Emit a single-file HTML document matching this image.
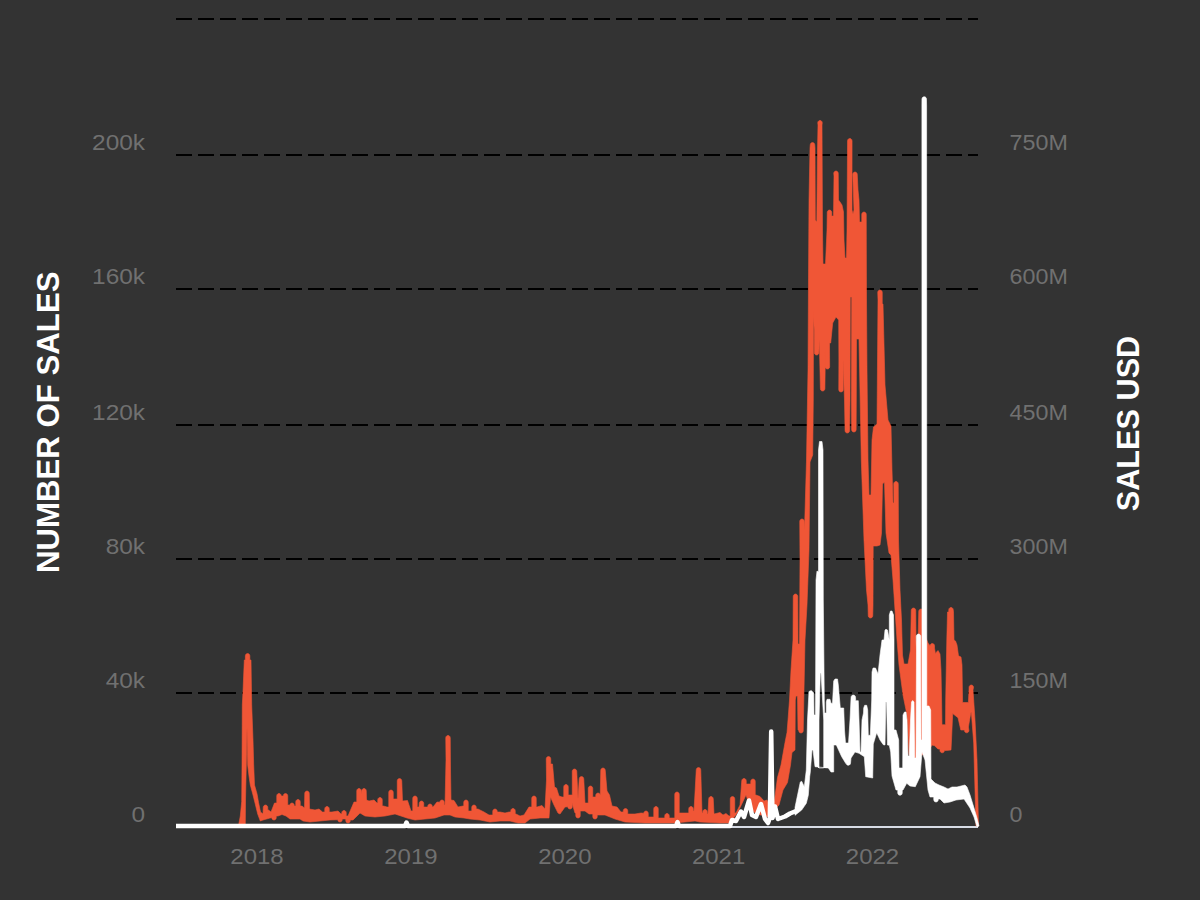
<!DOCTYPE html>
<html><head><meta charset="utf-8"><style>
html,body{margin:0;padding:0;background:#333333;overflow:hidden;width:1200px;height:900px;}
svg{display:block;}
</style></head><body>
<svg width="1200" height="900" viewBox="0 0 1200 900">
<rect x="0" y="0" width="1200" height="900" fill="#333333"/>
<line x1="176" y1="19" x2="978" y2="19" stroke="#000" stroke-width="2" stroke-dasharray="16 6"/>
<line x1="176" y1="155" x2="978" y2="155" stroke="#000" stroke-width="2" stroke-dasharray="16 6"/>
<line x1="176" y1="289" x2="978" y2="289" stroke="#000" stroke-width="2" stroke-dasharray="16 6"/>
<line x1="176" y1="425" x2="978" y2="425" stroke="#000" stroke-width="2" stroke-dasharray="16 6"/>
<line x1="176" y1="559" x2="978" y2="559" stroke="#000" stroke-width="2" stroke-dasharray="16 6"/>
<line x1="176" y1="693" x2="978" y2="693" stroke="#000" stroke-width="2" stroke-dasharray="16 6"/>
<g font-family="Liberation Sans, sans-serif" font-size="22" fill="#707070">
<text transform="translate(145,150) scale(1.11,1)" text-anchor="end">200k</text>
<text transform="translate(145,284) scale(1.11,1)" text-anchor="end">160k</text>
<text transform="translate(145,420) scale(1.11,1)" text-anchor="end">120k</text>
<text transform="translate(145,554) scale(1.11,1)" text-anchor="end">80k</text>
<text transform="translate(145,688) scale(1.11,1)" text-anchor="end">40k</text>
<text transform="translate(145,822) scale(1.11,1)" text-anchor="end">0</text>
<text transform="translate(1009.5,150) scale(1.06,1)">750M</text>
<text transform="translate(1009.5,284) scale(1.06,1)">600M</text>
<text transform="translate(1009.5,420) scale(1.06,1)">450M</text>
<text transform="translate(1009.5,554) scale(1.06,1)">300M</text>
<text transform="translate(1009.5,688) scale(1.06,1)">150M</text>
<text transform="translate(1009.5,822) scale(1.06,1)">0</text>
<text transform="translate(257,864) scale(1.09,1)" text-anchor="middle">2018</text>
<text transform="translate(410.9,864) scale(1.09,1)" text-anchor="middle">2019</text>
<text transform="translate(564.8,864) scale(1.09,1)" text-anchor="middle">2020</text>
<text transform="translate(718.6,864) scale(1.09,1)" text-anchor="middle">2021</text>
<text transform="translate(872.5,864) scale(1.09,1)" text-anchor="middle">2022</text>
</g>
<text transform="translate(58.5,573) rotate(-90) scale(1.0,1)" font-family="Liberation Sans, sans-serif" font-weight="bold" font-size="31.2" fill="#ffffff">NUMBER OF SALES</text>
<text transform="translate(1139,511.3) rotate(-90) scale(0.953,1)" font-family="Liberation Sans, sans-serif" font-weight="bold" font-size="32.2" fill="#ffffff">SALES USD</text>
<line x1="176" y1="827" x2="978" y2="827" stroke="#d8dce6" stroke-width="2"/>
<polygon points="176,826 238.5,826 239,823 240.3,816 241.7,801.7 242,765 242.3,705 243,691.7 244.3,660 245.35,660 245.35,655.75 245.651,654.625 246.475,653.801 247.6,653.5 248.725,653.801 249.549,654.625 249.85,655.75 249.85,660 251,660 251.7,705 253,740 253.7,765 254.5,785 257,793.7 258.5,802.3 260.5,812 263,814 263.25,807.25 263.551,806.125 264.375,805.301 265.5,805 266.625,805.301 267.449,806.125 267.75,807.25 267.75,810 268.5,810 271,812 274.5,803 276.75,803 276.75,795.75 277.051,794.625 277.875,793.801 279,793.5 280.125,793.801 280.949,794.625 281.25,795.75 281.25,796 282.5,796 283.25,796 283.25,795.75 283.551,794.625 284.375,793.801 285.5,793.5 286.625,793.801 287.449,794.625 287.75,795.75 287.75,805 289,805 289.75,805.25 290.051,804.125 290.875,803.301 292,803 293.125,803.301 293.949,804.125 294.25,805.25 294.25,806 295,806 295.75,806 295.75,801.75 296.051,800.625 296.875,799.801 298,799.5 299.125,799.801 299.949,800.625 300.25,801.75 300.25,806 302,806 304.5,808 304.75,793.25 305.051,792.125 305.875,791.301 307,791 308.125,791.301 308.949,792.125 309.25,793.25 309.5,809 315,810 319,809 322.5,812 324.75,812 324.75,808.75 325.051,807.625 325.875,806.801 327,806.5 328.125,806.801 328.949,807.625 329.25,808.75 329.25,812 332,812 338,811 341,814 341.75,814 341.75,812.75 342.051,811.625 342.875,810.801 344,810.5 345.125,810.801 345.949,811.625 346.25,812.75 346.25,816 348,816 354,802 356.75,802 356.75,790.75 357.051,789.625 357.875,788.801 359,788.5 360.125,788.801 360.949,789.625 361.25,790.75 361.5,794 361.75,790.75 362.051,789.625 362.875,788.801 364,788.5 365.125,788.801 365.949,789.625 366.25,790.75 366.5,800 369,801 374,800 377,803 377.75,803 377.75,799.75 378.051,798.625 378.875,797.801 380,797.5 381.125,797.801 381.949,798.625 382.25,799.75 382.25,806 383.5,806 387,807 388.75,807 388.75,792.25 389.051,791.125 389.875,790.301 391,790 392.125,790.301 392.949,791.125 393.25,792.25 393.25,799 394,799 397.25,799 397.25,780.75 397.551,779.625 398.375,778.801 399.5,778.5 400.625,778.801 401.449,779.625 401.75,780.75 402.5,801 407.5,800.5 411,811 412.75,811 412.75,798.25 413.051,797.125 413.875,796.301 415,796 416.125,796.301 416.949,797.125 417.25,798.25 417.25,807 419,807 419.25,803.25 419.551,802.125 420.375,801.301 421.5,801 422.625,801.301 423.449,802.125 423.75,803.25 423.75,807 425,807 427.75,807 427.75,806.25 428.051,805.125 428.875,804.301 430,804 431.125,804.301 431.949,805.125 432.25,806.25 432.25,807 433,807 437,802 439.75,802.25 440.051,801.125 440.875,800.301 442,800 443.125,800.301 443.949,801.125 444.25,802.25 444.25,805 445,805 446,760 445.75,737.75 446.051,736.625 446.875,735.801 448,735.5 449.125,735.801 449.949,736.625 450.25,737.75 450.5,770 451,800 454,800.5 458,807 463,806 463.75,806 463.75,802.25 464.051,801.125 464.875,800.301 466,800 467.125,800.301 467.949,801.125 468.25,802.25 468.25,811 469,811 471.75,811 471.75,807.25 472.051,806.125 472.875,805.301 474,805 475.125,805.301 475.949,806.125 476.25,807.25 476.25,809 478,809 484,812 489,815 492.75,815 492.75,811.25 493.051,810.125 493.875,809.301 495,809 496.125,809.301 496.949,810.125 497.25,811.25 497.25,812 500,812 505,813 509,812 510.75,812 510.75,810.75 511.051,809.625 511.875,808.801 513,808.5 514.125,808.801 514.949,809.625 515.25,810.75 515.25,814 516,814 520,816 524,815 529,807 531.75,807 531.75,798.25 532.051,797.125 532.875,796.301 534,796 535.125,796.301 535.949,797.125 536.25,798.25 536.25,807 537,807 542,805.5 545,809 546.5,780 546.25,758.75 546.551,757.625 547.375,756.801 548.5,756.5 549.625,756.801 550.449,757.625 550.75,758.75 550.75,764 552.5,764 554.5,787 556.5,788 559,796 562,797 563.75,797 563.75,786.75 564.051,785.625 564.875,784.801 566,784.5 567.125,784.801 567.949,785.625 568.25,786.75 568.25,795 569,795 572.25,795 572.25,771.25 572.551,770.125 573.375,769.301 574.5,769 575.625,769.301 576.449,770.125 576.75,771.25 578,799 579.25,778.75 579.551,777.625 580.375,776.801 581.5,776.5 582.625,776.801 583.449,777.625 583.75,778.75 585,803 588.25,803 588.25,788.25 588.551,787.125 589.375,786.301 590.5,786 591.625,786.301 592.449,787.125 592.75,788.25 592.75,797 594,797 595.75,797 595.75,795.25 596.051,794.125 596.875,793.301 598,793 599.125,793.301 599.949,794.125 600.25,795.25 600.75,770.25 601.051,769.125 601.875,768.301 603,768 604.125,768.301 604.949,769.125 605.25,770.25 607,791 609.5,795 612,806 617,807 621,812 623.25,812 623.25,810.75 623.551,809.625 624.375,808.801 625.5,808.5 626.625,808.801 627.449,809.625 627.75,810.75 627.75,814 629,814 635,814 641,813 643.75,813.25 644.051,812.125 644.875,811.301 646,811 647.125,811.301 647.949,812.125 648.25,813.25 648.25,817 650,817 653.75,817 653.75,808.75 654.051,807.625 654.875,806.801 656,806.5 657.125,806.801 657.949,807.625 658.25,808.75 658.25,818 660,818 664.75,818 664.75,815.75 665.051,814.625 665.875,813.801 667,813.5 668.125,813.801 668.949,814.625 669.25,815.75 669.25,818 671,818 674.75,818 674.75,794.25 675.051,793.125 675.875,792.301 677,792 678.125,792.301 678.949,793.125 679.25,794.25 679.25,813 681,813 685,813 688.75,813 688.75,808.75 689.051,807.625 689.875,806.801 691,806.5 692.125,806.801 692.949,807.625 693.25,808.75 693.25,811 694,811 696.25,769.75 696.551,768.625 697.375,767.801 698.5,767.5 699.625,767.801 700.449,768.625 700.75,769.75 702,813 702.75,813 702.75,811.75 703.051,810.625 703.875,809.801 705,809.5 706.125,809.801 706.949,810.625 707.25,811.75 707.25,814 708,814 708.75,798.75 709.051,797.625 709.875,796.801 711,796.5 712.125,796.801 712.949,797.625 713.25,798.75 714,814 720,812.5 723,815 726,813.5 729,816 730.25,816 730.25,798.75 730.551,797.625 731.375,796.801 732.5,796.5 733.625,796.801 734.449,797.625 734.75,798.75 734.75,813 736,813 740,805 741.75,780.75 742.051,779.625 742.875,778.801 744,778.5 745.125,778.801 745.949,779.625 746.25,780.75 746.25,784 747.5,784 750.75,784 750.75,781.25 751.051,780.125 751.875,779.301 753,779 754.125,779.301 754.949,780.125 755.25,781.25 755.25,795 756,795 760,796.5 764,801 767,800 769,805 774.5,800 777.5,777.5 781,765 785,742.5 787,732.5 788,720 789.5,700 791,670 793,640 793.25,596.25 793.551,595.125 794.375,594.301 795.5,594 796.625,594.301 797.449,595.125 797.75,596.25 798,644 799.5,644 800,560 799.75,521.25 800.051,520.125 800.875,519.301 802,519 803.125,519.301 803.949,520.125 804.25,521.25 804.5,530 806.5,460 808,370 808.5,280 809,200 810,148 810.25,144.75 810.551,143.625 811.375,142.801 812.5,142.5 813.625,142.801 814.449,143.625 814.75,144.75 815,148 815.3,220 816.8,222 817.5,150 818,125 817.75,122.75 818.051,121.625 818.875,120.801 820,120.5 821.125,120.801 821.949,121.625 822.25,122.75 822,125 822.5,230 823,264 825.5,264 827,230 827.25,212.25 827.551,211.125 828.375,210.301 829.5,210 830.625,210.301 831.449,211.125 831.75,212.25 831.75,216 832.5,216 833.5,216 834,176 833.75,173.25 834.051,172.125 834.875,171.301 836,171 837.125,171.301 837.949,172.125 838.25,173.25 838.5,200 840,202 842,205 843.5,212 844,240 845,258 846.5,258 847,230 847.55,140.75 847.851,139.625 848.675,138.801 849.8,138.5 850.925,138.801 851.749,139.625 852.05,140.75 852,210 853,214 854,210 852.75,174.25 853.051,173.125 853.875,172.301 855,172 856.125,172.301 856.949,173.125 857.25,174.25 858,190 859,200 859.5,222 861,222 861.75,222 861.75,214.25 862.051,213.125 862.875,212.301 864,212 865.125,212.301 865.949,213.125 866.25,214.25 866.5,300 867,370 868,460 869,495 871,495 872,440 873.5,427 877,424 878,300 877.75,292.25 878.051,291.125 878.875,290.301 880,290 881.125,290.301 881.949,291.125 882.25,292.25 882.25,304 883,304 885,385 888,420 891,426 892,470 893,503 894,503 893.75,483.75 894.051,482.625 894.875,481.801 896,481.5 897.125,481.801 897.949,482.625 898.25,483.75 898.5,540 900,590 901.5,620 902.5,655 904,664 908,664 910.5,650 911.25,610.25 911.551,609.125 912.375,608.301 913.5,608 914.625,608.301 915.449,609.125 915.75,610.25 916,640 918,645 918.75,611.25 919.051,610.125 919.875,609.301 921,609 922.125,609.301 922.949,610.125 923.25,611.25 926,638 928,643 930.05,645.75 930.351,644.625 931.175,643.801 932.3,643.5 933.425,643.801 934.249,644.625 934.55,645.75 934.5,648 935.5,654 936.5,652 938,650.5 940,654 941,670 941.6,700 942,724.7 945.5,724.7 945.7,700 946.8,640 947.5,612 948.75,612 948.75,609.75 949.051,608.625 949.875,607.801 951,607.5 952.125,607.801 952.949,608.625 953.25,609.75 953.5,612 954,640 955.5,641 957,645 958.5,655.8 961,657 962,665 962.6,702.5 968.4,702.5 969,690 969.05,687.25 969.351,686.125 970.175,685.301 971.3,685 972.425,685.301 973.249,686.125 973.55,687.25 973,690 975,720 977,760 978.5,826 978.5,826 976,826 975,790 973.7,743 971.3,712 970.8,713 968.4,727 968.95,730.55 968.649,731.675 967.825,732.499 966.7,732.8 965.575,732.499 964.751,731.675 964.45,730.55 964.45,730 960.8,730 958,717.7 952.7,713.6 951.5,740 951,750 946.3,750.5 944.45,750.5 944.45,750.55 944.149,751.675 943.325,752.499 942.2,752.8 941.075,752.499 940.251,751.675 939.95,750.55 939.95,749 938,749 934.6,745.8 932,745 929,750 918.25,757.75 917.949,758.875 917.125,759.699 916,760 914.875,759.699 914.051,758.875 913.75,757.75 912,758 909,755 907,715 903,695 899,665 897,640 895,610 893,580 891,555 889,553 886,533 884.5,482 882.5,484 881.5,533 880,545 877,546 873.2,546 873,605 872.75,615.75 872.449,616.875 871.625,617.699 870.5,618 869.375,617.699 868.551,616.875 868.25,615.75 868,605 866.5,590 864,540 861.3,460 859,339 856.5,339 856.3,400 856.15,429.75 855.849,430.875 855.025,431.699 853.9,432 852.775,431.699 851.951,430.875 851.65,429.75 851.5,400 851.7,297 850.3,297 850,400 849.55,430.75 849.249,431.875 848.425,432.699 847.3,433 846.175,432.699 845.351,431.875 845.05,430.75 844.5,400 843.2,360 843.25,389.75 842.949,390.875 842.125,391.699 841,392 839.875,391.699 839.051,390.875 838.75,389.75 838.9,360 838.7,320 836,317 832.7,323 830.7,343 829.5,343 829.65,366.75 829.349,367.875 828.525,368.699 827.4,369 826.275,368.699 825.451,367.875 825.15,366.75 825.4,350 824.9,388.75 824.599,389.875 823.775,390.699 822.65,391 821.525,390.699 820.701,389.875 820.4,388.75 819.3,340 818.85,352.75 818.549,353.875 817.725,354.699 816.6,355 815.475,354.699 814.651,353.875 814.35,352.75 814.3,330 813.2,312 813.5,312 813.3,400 812.7,455 810,462 809,550 807,605 805,640 804,690 803.25,730.75 802.949,731.875 802.125,732.699 801,733 799.875,732.699 799.051,731.875 798.75,730.75 798.75,730 798,730 797.5,696 796,696 795.3,700 795,750 792,752.5 790.5,765 787.5,782.5 783,790 779,805 774,810 770.25,810 770.25,814.75 769.949,815.875 769.125,816.699 768,817 766.875,816.699 766.051,815.875 765.75,814.75 760,815 755,813 750,807 746,795 738,812 730,823 720,823 700,822 695,821 685,822 675,823 645,823 625,822 615,819 605,815 600,815 597.25,815 597.25,816.75 596.949,817.875 596.125,818.699 595,819 593.875,818.699 593.051,817.875 592.75,816.75 592.75,814 589,814 585,811 580.25,811 580.25,815.75 579.949,816.875 579.125,817.699 578,818 576.875,817.699 576.051,816.875 575.75,815.75 575.75,813 575,813 572,803 572.25,806.75 571.949,807.875 571.125,808.699 570,809 568.875,808.699 568.051,807.875 567.75,806.75 565,807 560,814 558,813 554,805 550.5,797 549,818 540,818 530,819 525,823 518,823 510,821 500,821 490,822 480,820 470,819 464,818 455,817 450,815 444,815 435,818 425,819 415,820 407,818 401,816 395,814 385,816 375,817 365,816 360,813 353,820 350.25,820 350.25,820.75 349.949,821.875 349.125,822.699 348,823 346.875,822.699 346.051,821.875 345.75,820.75 345.75,819 345,819 342.25,819 342.25,819.75 341.949,820.875 341.125,821.699 340,822 338.875,821.699 338.051,820.875 337.75,819.75 330,820 320,821 310,822 303,821 300,819 290,819 286,816 282,814.5 278,816 276.25,816 276.25,817.75 275.949,818.875 275.125,819.699 274,820 272.875,819.699 272.051,818.875 271.75,817.75 270,818 263,820 260.3,821 257.7,814 255,803 253,795 250.3,785 249,776 247.7,765 247,728 246.3,765 245.5,800 245.3,826 238.5,826 176,826" fill="#f05636" stroke="#f05636" stroke-width="0.6" stroke-linejoin="round"/>
<polyline points="176,826 405,826 406.5,822.5 408,826 676,826 677.5,822 679,826 730,826 732,820 736,821 741,811.5 744,817 749,800.5 752,815 756,817 761,804 765,819 768,823 769.8,818 771.2,731.5 772.5,818 775,806.5 778,819 785,816.5 790,813.5 796,811" fill="none" stroke="#ffffff" stroke-width="4.5" stroke-linejoin="round" stroke-linecap="butt"/>
<path d="M795,807.3 L800.3,782 L801.7,781.3 L803,784 L804.3,786.7 L806.3,770 L807.5,720 L809,691.5 L811.3,690.5 L813.7,693 L814,715 L815.5,715 L816,580 L817,571 L818.5,572 L818.5,450 L819.5,441.5 L822,441.5 L823,450 L823.3,600 L824.3,700 L824.5,713 L826.3,713 L826.3,702 L827,699.3 L830,699.3 L831,703.3 L832.5,703.3 L833.7,681 L835,679 L837.5,679 L838.3,685 L840.3,708 L843.7,708 L844.5,730 L845.5,743 L848.5,743 L850,720 L851.05,697.25 L851.351,696.125 L852.175,695.301 L853.3,695 L854.425,695.301 L855.249,696.125 L855.55,697.25 L855.7,700.7 L858.3,700.7 L859,720 L860,752 L861,752 L862,720 L863.5,713 L863.7,708 L864.7,705.3 L866.7,705.3 L867.7,710 L868.3,735.3 L870.3,735.3 L871.7,700 L872,672 L873,668 L875.5,668 L878,674 L879.5,660 L880,655 L882,640 L884,640 L885,630 L886,629.3 L887.5,630 L889.3,640 L889.3,615 L890.5,611 L892,611 L893.5,615 L894,640 L894,730 L896,730 L898.7,740 L899,768 L902.7,768 L903,715 L904.5,712 L906,712 L907,720 L908,756 L909.3,756 L910.5,720 L911.5,702 L912.7,700.5 L914,702 L914.7,758 L916,758 L916.5,650 L916.25,636.25 L916.551,635.125 L917.375,634.301 L918.5,634 L919.625,634.301 L920.449,635.125 L920.75,636.25 L920.7,660 L921,740 L922,740 L921.9,106 L921.95,98.95 L922.251,97.825 L923.075,97.0014 L924.2,96.7 L925.325,97.0014 L926.149,97.825 L926.45,98.95 L926.6,106 L926.8,706 L929,706 L930.7,710 L931,779 L935,783 L939,785 L944,787 L948,789 L952,787 L957,787 L961,786 L965,785 L967,787 L970,795 L974,808 L977,818 L979,826 L979,826 L977,827 L974,817 L970,808 L964,799 L956,800 L950,802 L944,803 L940,799 L938.25,799 L938.25,799.75 L937.949,800.875 L937.125,801.699 L936,802 L934.875,801.699 L934.051,800.875 L933.75,799.75 L933.75,797 L930,797 L928,790 L925,760 L922,752 L920,776.7 L915.3,786.7 L910,786 L906.7,783.3 L903,790 L902.25,790 L902.25,793.05 L901.949,794.175 L901.125,794.999 L900,795.3 L898.875,794.999 L898.051,794.175 L897.75,793.05 L897.75,790 L896,790 L892,776 L890.7,752 L889.3,745.3 L887.5,745 L886.6,702 L885.8,702 L885,745 L883.3,744.7 L880,740 L876.7,732.7 L873.3,744 L872.7,778 L865.7,776.7 L864.3,756.7 L859,753.3 L855,752 L851,758 L850.55,763.05 L850.249,764.175 L849.425,764.999 L848.3,765.3 L847.175,764.999 L846.351,764.175 L846.05,763.05 L845.7,763.3 L841.7,756.7 L836.3,745 L833.7,745 L833.7,772 L831,772 L828.3,768 L815,766.7 L813,750 L812,750 L810.3,772 L809.7,776.7 L808.3,795.3 L806.3,803.3 L801.7,810 L795,815.3ZM820.3,673 L821,673 L823.7,720 L823.7,768 L819,768 L819,720Z" fill="#ffffff" fill-rule="evenodd" stroke="#ffffff" stroke-width="0.6" stroke-linejoin="round"/>
</svg>
</body></html>
